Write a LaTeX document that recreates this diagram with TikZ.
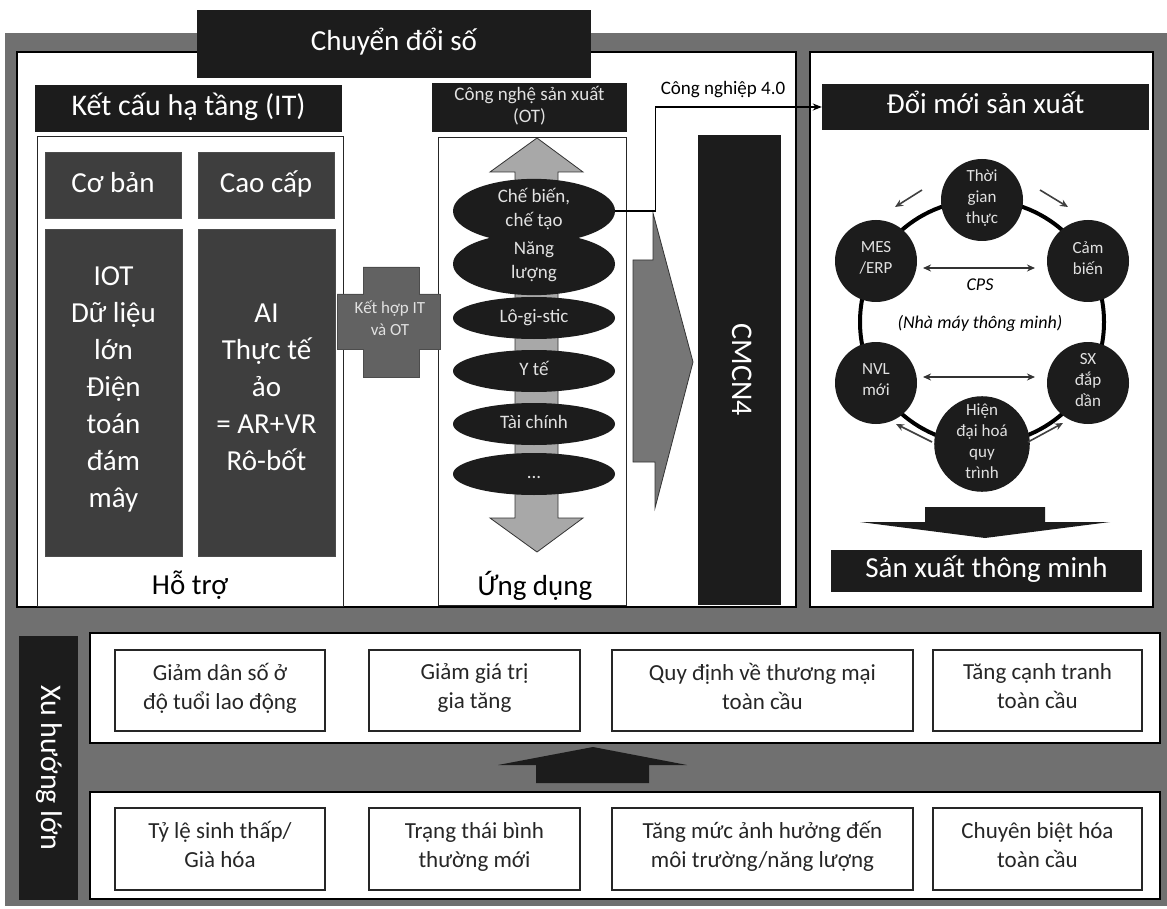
\documentclass[tikz,border=0pt]{standalone}
\usepackage{fontspec}
\setmainfont{Carlito}
\usetikzlibrary{shapes.geometric,arrows.meta}
\definecolor{framegray}{RGB}{112,112,112}
\definecolor{boxblack}{RGB}{28,28,28}
\definecolor{boxdark}{RGB}{62,62,62}
\definecolor{crossgray}{RGB}{98,98,98}
\definecolor{chevgray}{RGB}{118,118,118}
\definecolor{arrowgray}{RGB}{168,168,168}
\definecolor{lighttext}{RGB}{225,225,225}
\newcommand{\myfs}[2]{\fontsize{#1}{#2}\selectfont}
\begin{document}
\begin{tikzpicture}[x=1pt,y=-1pt,
  every node/.style={execute at begin node={\strut},execute at end node={\strut}},
  panel/.style={fill=white,draw=black,line width=1.2pt},
  thinbox/.style={draw=black!85,line width=1pt,fill=white},
  blackbox/.style={rectangle,fill=boxblack,text=white,inner sep=0pt,align=center,font=\myfs{29}{34}},
  darkbox/.style={rectangle,fill=boxdark,draw=black!70,line width=0.6pt,text=white,inner sep=0pt,align=center,font=\myfs{29}{37}},
  ell/.style={ellipse,fill=boxblack,minimum width=162pt,minimum height=42pt,inner sep=0pt,text=lighttext,align=center,font=\myfs{19}{24}},
  circ/.style={circle,fill=boxblack,minimum size=82pt,inner sep=0pt,text=lighttext,align=center,font=\myfs{17}{21}},
  tbox/.style={rectangle,draw=black!85,line width=1.2pt,fill=white,inner sep=0pt,align=center,text=black!85,font=\myfs{23}{29}},
  smallarrow/.style={draw=black!75,line width=1.6pt,-{Stealth[length=8pt,width=7pt]}},
  dblarrow/.style={draw=black!80,line width=1.6pt,{Stealth[length=8pt,width=7pt]}-{Stealth[length=8pt,width=7pt]}},
  biglabel/.style={text=black,font=\myfs{29}{34}}
]
\useasboundingbox (0,0) rectangle (1167,909);
\fill[white] (0,0) rectangle (1167,909);
% outer grey frame
\fill[framegray] (5,33) rectangle (1167,906);
% panels
\draw[panel] (17,52) rectangle (796,607);
\draw[panel] (810,52) rectangle (1153,607);
\draw[panel] (90,633) rectangle (1160,743);
\draw[panel] (90,792) rectangle (1160,899);

% title
\node[blackbox,minimum width=394pt,minimum height=68pt,font=\myfs{29}{34}] (cds) at (394,44) {Chuyển đổi số};

% IT column
\node[blackbox,minimum width=307pt,minimum height=47pt,font=\myfs{30}{34}] (kc) at (188.5,108.5) {Kết cấu hạ tầng (IT)};
\node[thinbox,minimum width=306pt,minimum height=469pt,inner sep=0pt] (hotrobox) at (190,371.5) {};
\node[biglabel] (hotro) at (190,588) {Hỗ trợ};
\node[darkbox,minimum width=136pt,minimum height=66pt] (cb) at (113,185) {Cơ bản};
\node[darkbox,minimum width=136pt,minimum height=66pt] (cc) at (266,185) {Cao cấp};
\node[darkbox,minimum width=137pt,minimum height=327pt] (cbl) at (113.5,392.5) {IOT\\Dữ liệu\\lớn\\Điện\\toán\\đám\\mây};
\node[darkbox,minimum width=137pt,minimum height=327pt] (ccl) at (266.5,392.5) {AI\\Thực tế\\ảo\\= AR+VR\\Rô-bốt};

% OT column
\node[blackbox,minimum width=195pt,minimum height=49pt,text=lighttext,font=\myfs{19}{22}] (ot) at (529.5,107.5) {Công nghệ sản xuất\\(OT)};
\node[thinbox,minimum width=188pt,minimum height=467pt,inner sep=0pt] (ungbox) at (532,371.5) {};
\node[biglabel] (ung) at (535,588) {Ứng dụng};

% cross "Kết hợp IT và OT"
\filldraw[fill=crossgray,draw=black!70,line width=0.6pt]
  (363,267) -- (419,267) -- (419,294) -- (440,294) -- (440,349) -- (419,349)
  -- (419,377) -- (363,377) -- (363,349) -- (337,349) -- (337,294) -- (363,294) -- cycle;
\node[text=lighttext,align=center,font=\myfs{17}{22}] (kh) at (390,321) {Kết hợp IT\\và OT};

% vertical double arrow
\filldraw[fill=arrowgray,draw=black!80,line width=0.8pt]
  (537,138) -- (583,172) -- (558,172) -- (558,518) -- (583,518) -- (537,552)
  -- (490,518) -- (515,518) -- (515,172) -- (490,172) -- cycle;

% ellipses
\node[ell] (e1) at (534,211) {Chế biến,\\chế tạo};
\node[ell] (e2) at (534,264) {Năng\\lượng};
\node[ell] (e3) at (534,318) {Lô-gi-stic};
\node[ell] (e4) at (534,371) {Y tế};
\node[ell] (e5) at (534,424) {Tài chính};
\node[ell] (e6) at (534,474) {...};

% chevron
\filldraw[fill=chevgray,draw=black!80,line width=0.8pt]
  (633,260) -- (653,260) -- (653,213) -- (693,362) -- (655,508) -- (655,462) -- (633,462) -- cycle;

% CMCN4 bar
\node[blackbox,rotate=-90,minimum width=470pt,minimum height=83pt,font=\myfs{30}{34}] (cmcn) at (739.5,370) {CMCN4};

% right panel
\node[blackbox,minimum width=327pt,minimum height=46pt] (dm) at (985.5,107) {Đổi mới sản xuất};

% connector Công nghiệp 4.0
\draw[black,line width=1.4pt,-{Stealth[length=9pt,width=7pt]}] (e1.east) -- ++(40,0) |- (dm.west);
\node[text=black,font=\myfs{19}{23}] (cn) at (723,90) {Công nghiệp 4.0};

% ring
\coordinate (ringc) at (982,322);
\draw[black,line width=4pt] (ringc) circle[radius=122pt];
\node[circ] (thoi) at (982,200) {Thời\\gian\\thực};
\node[circ] (mes) at (876,261) {MES\\/ERP};
\node[circ] (cam) at (1088,261) {Cảm\\biến};
\node[circ] (nvl) at (876,383) {NVL\\mới};
\node[circ] (sx) at (1088,383) {SX\\đắp\\dần};
\node[circ] (hien) at (982,444) {Hiện\\đại hoá\\quy\\trình};

% small arrows
\coordinate (a1s) at (922,190); \coordinate (a1e) at (895,207);
\coordinate (a2s) at (1040,190); \coordinate (a2e) at (1068,207);
\coordinate (a3s) at (932,442); \coordinate (a3e) at (896,424);
\coordinate (a4s) at (1028,442); \coordinate (a4e) at (1063,423);
\draw[smallarrow] (a1s) -- (a1e);
\draw[smallarrow] (a2s) -- (a2e);
\draw[smallarrow] (a3s) -- (a3e);
\draw[smallarrow] (a4s) -- (a4e);
\coordinate (d1s) at (923,268); \coordinate (d1e) at (1035,268);
\coordinate (d2s) at (923,377); \coordinate (d2e) at (1035,377);
\draw[dblarrow] (d1s) -- (d1e);
\draw[dblarrow] (d2s) -- (d2e);
\node[text=black,font=\itshape\myfs{18}{22}] (cps) at (980,286) {CPS};
\node[text=black,font=\itshape\myfs{18}{22}] (nmtm) at (980,324) {(Nhà máy thông minh)};

% down arrow
\fill[boxblack] (925,507) -- (1045,507) -- (1045,522) -- (1110,522) -- (985,538) -- (860,522) -- (925,522) -- cycle;
\node[blackbox,minimum width=311pt,minimum height=42pt] (sxtm) at (986.5,571) {Sản xuất thông minh};

% bottom: megatrends
\node[blackbox,rotate=-90,minimum width=264pt,minimum height=59pt,font=\myfs{30}{34}] (xh) at (48.5,768) {Xu hướng lớn};
\node[tbox,minimum width=210pt,minimum height=81pt] (b1) at (220,690.5) {Giảm dân số ở\\độ tuổi lao động};
\node[tbox,minimum width=211pt,minimum height=81pt] (b2) at (474.5,690.5) {Giảm giá trị\\gia tăng};
\node[tbox,minimum width=301pt,minimum height=81pt] (b3) at (762.5,690.5) {Quy định về thương mại\\toàn cầu};
\node[tbox,minimum width=209pt,minimum height=81pt] (b4) at (1037.5,690.5) {Tăng cạnh tranh\\toàn cầu};
\node[tbox,minimum width=210pt,minimum height=82pt] (c1) at (220,849) {Tỷ lệ sinh thấp/\\Già hóa};
\node[tbox,minimum width=211pt,minimum height=82pt] (c2) at (474.5,849) {Trạng thái bình\\thường mới};
\node[tbox,minimum width=301pt,minimum height=82pt] (c3) at (762.5,849) {Tăng mức ảnh hưởng đến\\môi trường/năng lượng};
\node[tbox,minimum width=209pt,minimum height=82pt] (c4) at (1037.5,849) {Chuyên biệt hóa\\toàn cầu};

% up arrow
\fill[boxblack] (593,747) -- (687,765) -- (649,765) -- (649,783) -- (536,783) -- (536,765) -- (498,765) -- cycle;
\end{tikzpicture}
\end{document}
